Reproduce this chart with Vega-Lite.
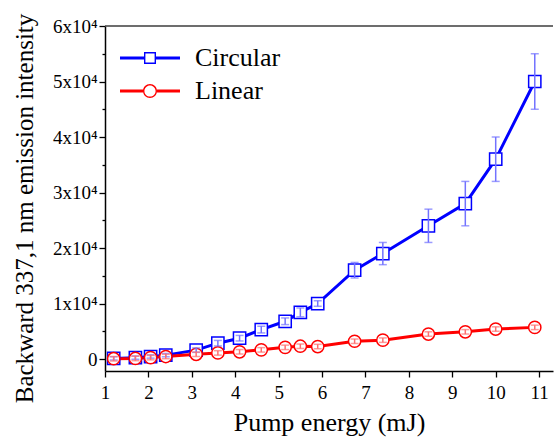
{
  "$schema": "https://vega.github.io/schema/vega-lite/v6.json",
  "width": 448,
  "height": 345,
  "autosize": "none",
  "padding": {"left": 105, "top": 26, "right": 1, "bottom": 69},
  "background": "white",
  "config": {
    "view": {"stroke": null},
    "font": "Liberation Serif",
    "axis": {
      "grid": false,
      "domainColor": "black",
      "domainWidth": 1.5,
      "tickColor": "black",
      "tickWidth": 1.3,
      "tickSize": 6,
      "labelFont": "Liberation Serif",
      "labelFontSize": 19,
      "labelColor": "black",
      "labelFlush": false,
      "titleFont": "Liberation Serif",
      "titleFontWeight": "normal",
      "titleColor": "black"
    },
    "axisX": {
      "labelPadding": 6,
      "titleFontSize": 26,
      "titleBaseline": "alphabetic",
      "titlePadding": 28
    },
    "axisY": {
      "labelPadding": 2,
      "titleFontSize": 25,
      "titleAngle": -90,
      "titleAlign": "center",
      "titleBaseline": "alphabetic",
      "titleX": -73,
      "titleY": 182
    },
    "legend": {
      "labelFont": "Liberation Serif",
      "labelFontSize": 26,
      "labelColor": "black",
      "padding": 0
    }
  },
  "data": {
    "values": [
      {"series": "Circular", "energy": 1.2, "intensity": 100, "err": 300},
      {"series": "Circular", "energy": 1.7, "intensity": 250, "err": 300},
      {"series": "Circular", "energy": 2.05, "intensity": 450, "err": 300},
      {"series": "Circular", "energy": 2.4, "intensity": 700, "err": 300},
      {"series": "Circular", "energy": 3.1, "intensity": 1600, "err": 400},
      {"series": "Circular", "energy": 3.6, "intensity": 2850, "err": 500},
      {"series": "Circular", "energy": 4.1, "intensity": 3750, "err": 500},
      {"series": "Circular", "energy": 4.6, "intensity": 5300, "err": 600},
      {"series": "Circular", "energy": 5.15, "intensity": 6800, "err": 600},
      {"series": "Circular", "energy": 5.5, "intensity": 8400, "err": 800},
      {"series": "Circular", "energy": 5.9, "intensity": 10000, "err": 500},
      {"series": "Circular", "energy": 6.75, "intensity": 16000, "err": 1400},
      {"series": "Circular", "energy": 7.4, "intensity": 19000, "err": 2000},
      {"series": "Circular", "energy": 8.45, "intensity": 24000, "err": 3000},
      {"series": "Circular", "energy": 9.3, "intensity": 28000, "err": 4000},
      {"series": "Circular", "energy": 10.0, "intensity": 36000, "err": 4000},
      {"series": "Circular", "energy": 10.9, "intensity": 50000, "err": 5000},
      {"series": "Linear", "energy": 1.2, "intensity": 50, "err": 400},
      {"series": "Linear", "energy": 1.7, "intensity": 100, "err": 400},
      {"series": "Linear", "energy": 2.05, "intensity": 250, "err": 400},
      {"series": "Linear", "energy": 2.4, "intensity": 450, "err": 400},
      {"series": "Linear", "energy": 3.1, "intensity": 850, "err": 400},
      {"series": "Linear", "energy": 3.6, "intensity": 1100, "err": 400},
      {"series": "Linear", "energy": 4.1, "intensity": 1300, "err": 400},
      {"series": "Linear", "energy": 4.6, "intensity": 1650, "err": 400},
      {"series": "Linear", "energy": 5.15, "intensity": 2100, "err": 400},
      {"series": "Linear", "energy": 5.5, "intensity": 2300, "err": 400},
      {"series": "Linear", "energy": 5.9, "intensity": 2250, "err": 400},
      {"series": "Linear", "energy": 6.75, "intensity": 3200, "err": 400},
      {"series": "Linear", "energy": 7.4, "intensity": 3400, "err": 400},
      {"series": "Linear", "energy": 8.45, "intensity": 4500, "err": 400},
      {"series": "Linear", "energy": 9.3, "intensity": 4900, "err": 400},
      {"series": "Linear", "energy": 10.0, "intensity": 5400, "err": 400},
      {"series": "Linear", "energy": 10.9, "intensity": 5700, "err": 400}
    ]
  },
  "layer": [
    {
      "data": {"values": [{}]},
      "mark": {"type": "rule", "color": "#3c3c3c", "strokeWidth": 1.5},
      "encoding": {
        "y": {
          "datum": 60000,
          "type": "quantitative",
          "scale": {"domain": [-2160, 60000], "nice": false, "zero": false},
          "axis": {
            "orient": "left",
            "values": [5000, 15000, 25000, 35000, 45000, 55000],
            "labels": false,
            "domain": false,
            "title": null,
            "tickSize": 3
          }
        }
      }
    },
    {
      "mark": {"type": "line", "strokeWidth": 3},
      "encoding": {
        "x": {
          "field": "energy",
          "type": "quantitative",
          "scale": {"domain": [1, 11.32], "nice": false, "zero": false},
          "title": "Pump energy (mJ)",
          "axis": {
            "values": [1, 2, 3, 4, 5, 6, 7, 8, 9, 10, 11],
            "format": "d"
          }
        },
        "y": {
          "field": "intensity",
          "type": "quantitative",
          "scale": {"domain": [-2160, 60000], "nice": false, "zero": false},
          "title": "Backward 337,1 nm emission intensity",
          "axis": {
            "orient": "left",
            "values": [0, 10000, 20000, 30000, 40000, 50000, 60000],
            "labelExpr": "datum.value === 0 ? '0' : format(datum.value / 10000, 'd') + 'x10⁴'"
          }
        },
        "stroke": {
          "field": "series",
          "type": "nominal",
          "scale": {"domain": ["Circular", "Linear"], "range": ["#0000ff", "#ff0000"]},
          "legend": null
        }
      }
    },
    {
      "mark": {"type": "point", "filled": true, "fill": "white", "strokeWidth": 1.5, "size": 150, "opacity": 1},
      "encoding": {
        "x": {"field": "energy", "type": "quantitative", "title": "Pump energy (mJ)"},
        "y": {
          "field": "intensity",
          "type": "quantitative",
          "scale": {"domain": [-2160, 60000], "nice": false, "zero": false},
          "axis": null
        },
        "stroke": {
          "field": "series",
          "type": "nominal",
          "scale": {"domain": ["Circular", "Linear"], "range": ["#0000ff", "#ff0000"]},
          "legend": null
        },
        "shape": {
          "field": "series",
          "type": "nominal",
          "scale": {"domain": ["Circular", "Linear"], "range": ["square", "circle"]},
          "legend": null
        }
      }
    },
    {
      "transform": [{"filter": "datum.series === 'Circular'"}],
      "mark": {"type": "errorbar", "color": "#7272ff", "thickness": 1.5, "ticks": {"size": 8, "thickness": 1.5}},
      "encoding": {
        "x": {"field": "energy", "type": "quantitative", "title": "Pump energy (mJ)"},
        "y": {
          "field": "intensity",
          "type": "quantitative",
          "scale": {"domain": [-2160, 60000], "nice": false, "zero": false},
          "axis": null
        },
        "yError": {"field": "err"}
      }
    },
    {
      "transform": [{"filter": "datum.series === 'Linear'"}],
      "mark": {"type": "errorbar", "color": "#ff6e6e", "thickness": 1.5, "ticks": {"size": 8, "thickness": 1.5}},
      "encoding": {
        "x": {"field": "energy", "type": "quantitative", "title": "Pump energy (mJ)"},
        "y": {
          "field": "intensity",
          "type": "quantitative",
          "scale": {"domain": [-2160, 60000], "nice": false, "zero": false},
          "axis": null
        },
        "yError": {"field": "err"}
      }
    },
    {
      "transform": [{"filter": "datum.energy < 0"}],
      "mark": {"type": "point", "filled": true, "size": 4, "strokeWidth": 0},
      "encoding": {
        "x": {"field": "energy", "type": "quantitative", "title": "Pump energy (mJ)"},
        "y": {
          "field": "intensity",
          "type": "quantitative",
          "scale": {"domain": [-2160, 60000], "nice": false, "zero": false},
          "axis": null
        },
        "color": {
          "field": "series",
          "type": "nominal",
          "scale": {"domain": ["Circular", "Linear"], "range": ["#0000ff", "#ff0000"]},
          "legend": {
            "orient": "none",
            "legendX": 32,
            "legendY": 19,
            "title": null,
            "symbolSize": 4,
            "symbolStrokeWidth": 0,
            "symbolOpacity": 1,
            "labelOffset": 32,
            "rowPadding": 7
          }
        },
        "shape": {
          "field": "series",
          "type": "nominal",
          "scale": {
            "domain": ["Circular", "Linear"],
            "range": [
              "M-30,-1.5H-6V1.5H-30Z M6,-1.5H30V1.5H6Z M-6,-6H6V6H-6Z M-4.6,-4.6V4.6H4.6V-4.6Z",
              "M-30,-1.5H-7V1.5H-30Z M7,-1.5H30V1.5H7Z M-7,0A7,7 0 1,0 7,0A7,7 0 1,0 -7,0Z M-5.6,0A5.6,5.6 0 1,1 5.6,0A5.6,5.6 0 1,1 -5.6,0Z"
            ]
          },
          "legend": {
            "orient": "none",
            "legendX": 32,
            "legendY": 19,
            "title": null,
            "symbolSize": 4,
            "symbolStrokeWidth": 0,
            "symbolOpacity": 1,
            "labelOffset": 32,
            "rowPadding": 7
          }
        }
      }
    }
  ],
  "resolve": {
    "axis": {"y": "independent"},
    "scale": {"shape": "independent", "color": "independent"}
  }
}
